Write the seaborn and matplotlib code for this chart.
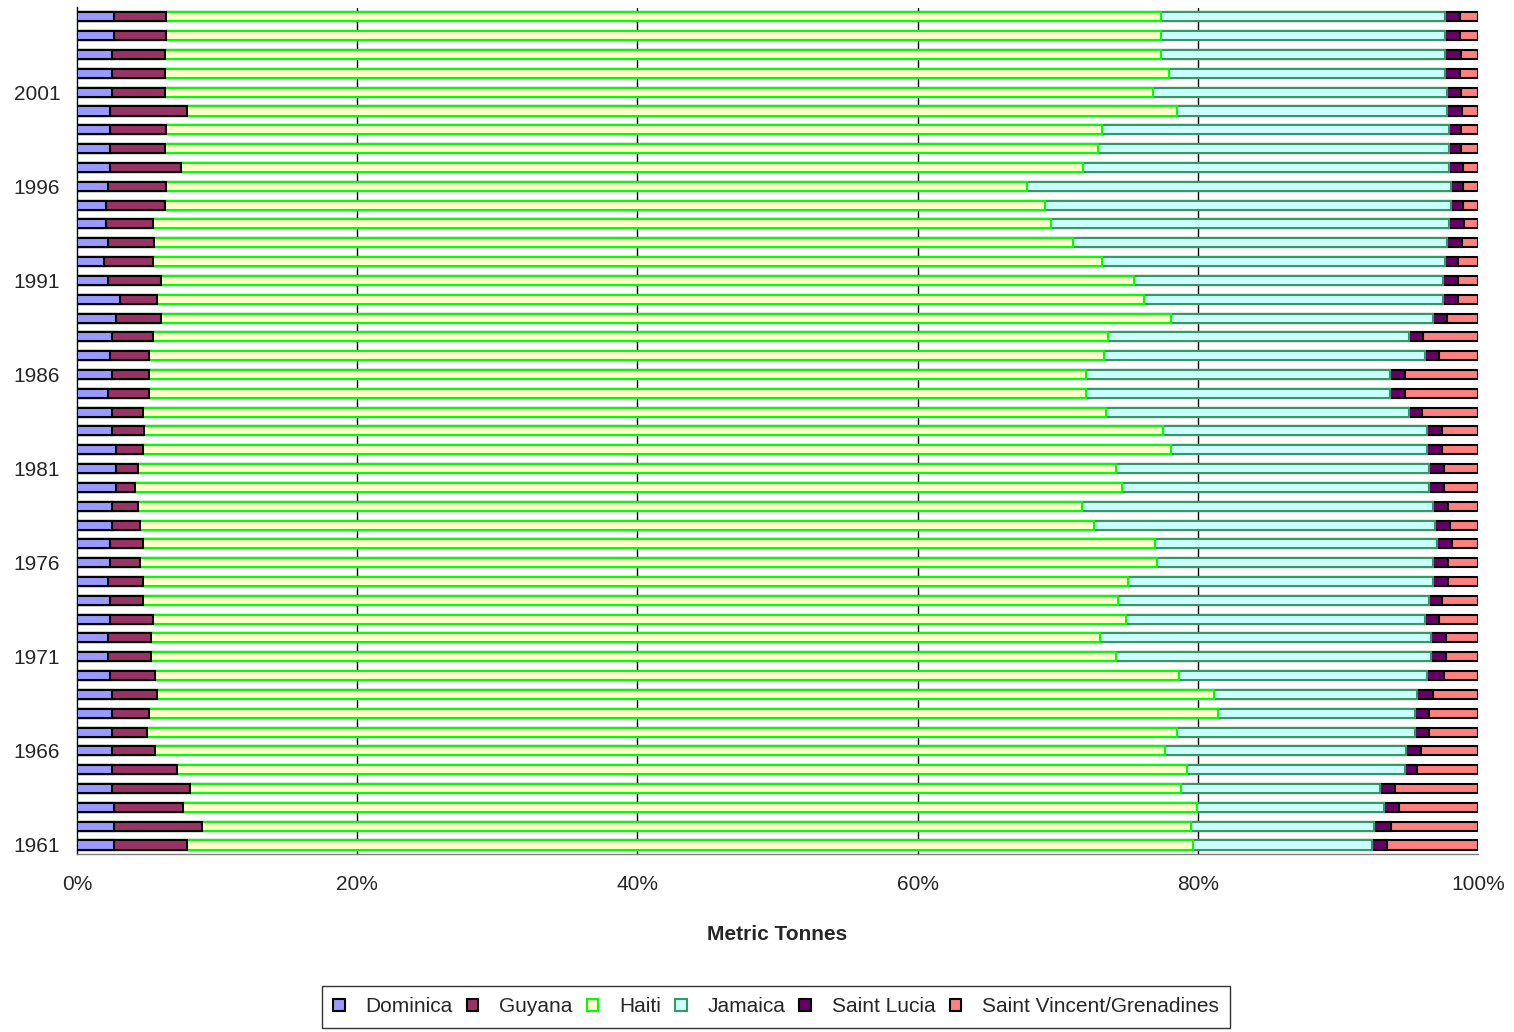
import numpy as np
import pandas as pd
import matplotlib
matplotlib.use("Agg")
import matplotlib.pyplot as plt
import seaborn as sns
from matplotlib.patches import Patch

# Share of total production (percent), 1961-2005
years = list(range(1961, 2006))

dominica = [2.66, 2.66, 2.66, 2.50, 2.50, 2.50, 2.50, 2.50, 2.50, 2.36,
            2.24, 2.24, 2.36, 2.36, 2.24, 2.36, 2.36, 2.50, 2.50, 2.78,
            2.78, 2.78, 2.50, 2.50, 2.24, 2.50, 2.36, 2.50, 2.78, 3.07,
            2.24, 1.90, 2.24, 2.07, 2.07, 2.24, 2.36, 2.36, 2.36, 2.36,
            2.50, 2.50, 2.50, 2.66, 2.66]
guyana = [5.21, 6.24, 4.93, 5.54, 4.61, 3.04, 2.47, 2.61, 3.19, 3.18,
          3.02, 3.02, 3.04, 2.33, 2.45, 2.16, 2.33, 2.02, 1.88, 1.33,
          1.60, 1.91, 2.28, 2.19, 2.87, 2.61, 2.75, 2.90, 3.19, 2.62,
          3.73, 3.50, 3.28, 3.33, 4.19, 4.14, 5.06, 3.90, 4.02, 5.51,
          3.76, 3.76, 3.76, 3.72, 3.72]
haiti = [71.81, 70.64, 72.37, 70.78, 72.14, 72.09, 73.54, 76.30, 75.44, 73.14,
         68.90, 67.73, 69.50, 69.64, 70.35, 72.55, 72.25, 68.07, 67.33, 70.50,
         69.78, 73.40, 72.74, 68.76, 66.89, 66.89, 68.17, 68.22, 72.09, 70.49,
         69.50, 67.73, 65.59, 64.12, 62.83, 61.40, 64.41, 66.59, 66.78, 70.64,
         70.52, 71.71, 71.12, 71.00, 71.00]
jamaica = [12.73, 13.04, 13.35, 14.21, 15.52, 17.25, 16.97, 14.07, 14.52, 17.68,
           22.49, 23.66, 21.29, 22.15, 21.72, 19.69, 20.11, 24.34, 25.05, 21.87,
           22.32, 18.27, 18.82, 21.60, 21.74, 21.74, 22.91, 21.43, 18.70, 21.32,
           22.03, 24.51, 26.68, 28.41, 28.98, 30.29, 26.08, 25.06, 24.75, 19.28,
           21.01, 19.70, 20.29, 20.29, 20.29]
saint_lucia = [1.07, 1.21, 1.05, 1.02, 0.88, 1.05, 1.04, 1.04, 1.16, 1.19,
               1.09, 1.09, 1.05, 0.93, 1.07, 1.07, 1.07, 1.05, 1.07, 1.07,
               1.07, 1.07, 1.07, 0.93, 1.03, 1.03, 1.05, 1.05, 1.05, 1.05,
               1.05, 0.91, 1.04, 1.05, 0.88, 0.88, 1.04, 0.90, 0.90, 1.07,
               1.02, 1.05, 1.14, 1.05, 1.05]
st_vincent = [6.52, 6.21, 5.64, 5.95, 4.35, 4.07, 3.48, 3.48, 3.19, 2.45,
              2.26, 2.26, 2.76, 2.59, 2.17, 2.17, 1.88, 2.02, 2.17, 2.45,
              2.45, 2.57, 2.59, 4.02, 5.23, 5.23, 2.76, 3.90, 2.19, 1.45,
              1.45, 1.45, 1.17, 1.02, 1.05, 1.05, 1.05, 1.19, 1.19, 1.14,
              1.19, 1.28, 1.19, 1.28, 1.28]

countries = ["Dominica", "Guyana", "Haiti", "Jamaica", "Saint Lucia",
             "Saint Vincent/Grenadines"]
series = [dominica, guyana, haiti, jamaica, saint_lucia, st_vincent]

fills = {"Dominica": "#9999FF", "Guyana": "#993366", "Haiti": "#FFFFCC",
         "Jamaica": "#CCFFFF", "Saint Lucia": "#660066",
         "Saint Vincent/Grenadines": "#FF8080"}
edges = {"Dominica": "black", "Guyana": "black", "Haiti": "#00FF00",
         "Jamaica": "#339966", "Saint Lucia": "black",
         "Saint Vincent/Grenadines": "black"}

# Normalise each year to 100 % and build running totals for stacking
df = pd.DataFrame({c: s for c, s in zip(countries, series)}, index=years)
df = df.div(df.sum(axis=1), axis=0) * 100
cum = df.cumsum(axis=1)
cum["year"] = [str(y) for y in years]

sns.set_style("white")
plt.rcParams["font.family"] = ["Liberation Sans", "DejaVu Sans"]

W, H = 1514, 1032
fig = plt.figure(figsize=(W / 100, H / 100), dpi=100)
ax = fig.add_axes([77 / W, 1 - 854.4 / H, 1401 / W, (854.4 - 7.5) / H])

order = [str(y) for y in reversed(years)]

# Overlay running totals from the right-most segment inward
for name in reversed(countries):
    sns.barplot(data=cum, x=name, y="year", order=order, orient="h",
                color=fills[name], saturation=1, edgecolor=edges[name],
                linewidth=1.5, width=0.48, errorbar=None, ax=ax)

for p in ax.patches:
    p.set_zorder(3)

# Gridlines sit behind the bars
for gx in (20, 40, 60, 80):
    ax.axvline(gx, color="black", lw=1.0, zorder=1)

ax.set_xlim(0, 100)
ax.set_ylim(44.5, -0.5)
ax.set_xticks([0, 20, 40, 60, 80, 100])
ax.set_xticklabels([f"{v}%" for v in (0, 20, 40, 60, 80, 100)], fontsize=15)

label_years = list(range(1961, 2006, 5))
ax.set_yticks([order.index(str(y)) for y in label_years])
ax.set_yticklabels([str(y) for y in label_years], fontsize=15)
ax.set_yticks(np.arange(-0.5, 45, 1), minor=True)

ax.tick_params(axis="y", which="major", length=0, pad=12)
ax.tick_params(axis="y", which="minor", length=7, width=1, color="black",
               direction="out")
ax.tick_params(axis="x", which="major", length=5, width=1, color="#808080",
               direction="out", pad=10)

for s in ("top", "right"):
    ax.spines[s].set_visible(False)
ax.spines["left"].set_color("black")
ax.spines["left"].set_linewidth(1)
ax.spines["bottom"].set_color("#808080")
ax.spines["bottom"].set_linewidth(1)

ax.set_ylabel("")
ax.set_xlabel("Metric Tonnes", fontsize=15, fontweight="bold", labelpad=22)

handles = [Patch(facecolor=fills[c], edgecolor=edges[c], linewidth=1.5)
           for c in countries]
leg = fig.legend(handles, countries, loc="center",
                 bbox_to_anchor=(776 / W, 1 - 1007 / H), ncol=6,
                 frameon=True, fancybox=False, fontsize=15,
                 handlelength=0.55, handleheight=0.55, handletextpad=1.0,
                 columnspacing=0.68, borderpad=0.55, borderaxespad=0)
leg.get_frame().set_edgecolor("black")
leg.get_frame().set_linewidth(1)

fig.savefig("out.png", dpi=100)
